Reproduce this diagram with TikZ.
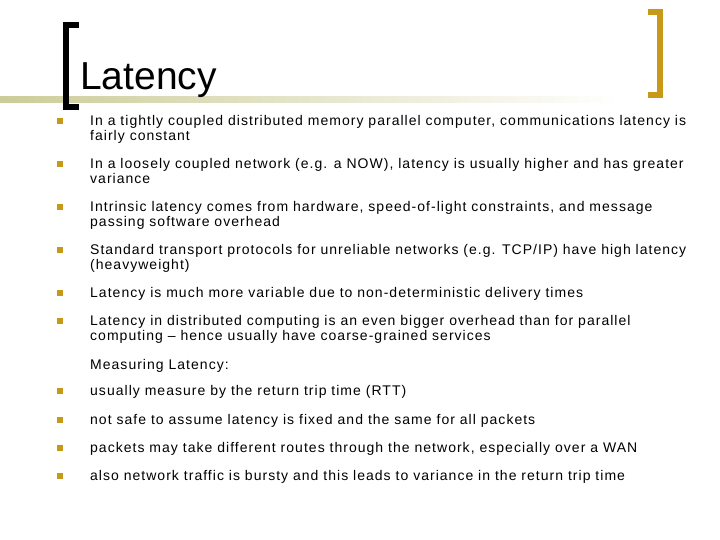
\documentclass[tikz,border=0pt]{standalone}
\usepackage{fontspec}
\setmainfont{Liberation Sans}
\newfontfamily\spaced[LetterSpace=7.3]{Liberation Sans}
\definecolor{gold}{RGB}{200,152,24}
\definecolor{olive}{RGB}{204,204,153}
\begin{document}
\begin{tikzpicture}[x=1pt,y=-1pt,
  txt/.style={anchor=north west,inner sep=0pt,align=left,font=\spaced\fontsize{14}{15.5}\selectfont},
  bul/.style={fill=gold,minimum size=6pt,inner sep=0pt}]
\useasboundingbox (0,0) rectangle (720,540);
\fill[white] (0,0) rectangle (720,540);
\shade[left color=olive,right color=white] (0,97) rectangle (620,103);
\fill[black] (63,22) rectangle (79,28);
\fill[black] (63,22) rectangle (69,110);
\fill[black] (63,104) rectangle (79,110);
\fill[gold] (648,9) rectangle (663,15);
\fill[gold] (657,9) rectangle (663,98);
\fill[gold] (648,92) rectangle (663,98);
\node[anchor=base west,inner sep=0pt,font=\fontsize{39}{42}\selectfont] (title) at (80,90) {Latency};
\foreach \y/\t [count=\i] in {
 115/{In a tightly coupled distributed memory parallel computer, communications latency is\\fairly constant},
 158/{In a loosely coupled network (e.g. a NOW), latency is usually higher and has greater\\variance},
 201/{Intrinsic latency comes from hardware, speed-of-light constraints, and message\\passing software overhead},
 244/{Standard transport protocols for unreliable networks (e.g. TCP/IP) have high latency\\(heavyweight)},
 287/{Latency is much more variable due to non-deterministic delivery times},
 315/{Latency in distributed computing is an even bigger overhead than for parallel\\computing – hence usually have coarse-grained services},
 385/{usually measure by the return trip time (RTT)},
 414/{not safe to assume latency is fixed and the same for all packets},
 442/{packets may take different routes through the network, especially over a WAN},
 470/{also network traffic is bursty and this leads to variance in the return trip time}}
{
 \node[bul] (b\i) at (60,\y+6) {};
 \node[txt] (t\i) at (90,\y) {\t};
}
\node[txt] (meas) at (90,359) {Measuring Latency:};
\end{tikzpicture}
\end{document}
